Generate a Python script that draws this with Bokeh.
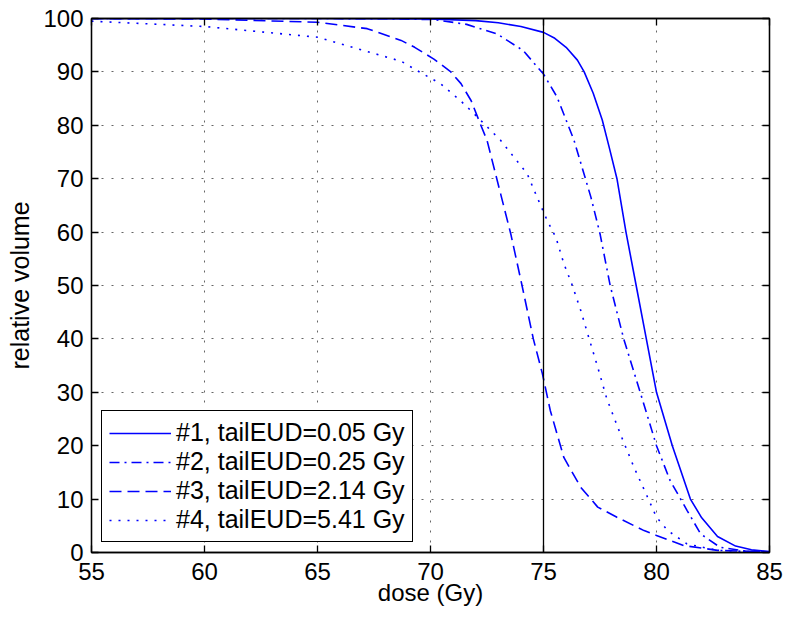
from bokeh.plotting import figure
from bokeh.models import FixedTicker, LinearAxis, Span, Range1d, CustomLabelingPolicy
from bokeh.embed import file_html
from bokeh.resources import INLINE

# ---- data ----
x_ticks = [55, 60, 65, 70, 75, 80, 85]
y_ticks = [0, 10, 20, 30, 40, 50, 60, 70, 80, 90, 100]
ref_dose = 75

labels = ["#1, tailEUD=0.05 Gy", "#2, tailEUD=0.25 Gy",
          "#3, tailEUD=2.14 Gy", "#4, tailEUD=5.41 Gy"]

dose1 = [55, 65, 70, 72, 73, 74, 75, 75.5, 76, 76.5, 76.8, 77.2, 77.6, 77.9,
         78.25, 78.65, 79.1, 79.55, 80.0, 80.7, 81.5, 82.0, 82.7, 83.5, 84.2, 85]
vol1 = [100, 100, 99.9, 99.6, 99.2, 98.5, 97.4, 96.3, 94.6, 92.2, 90, 86, 81, 76,
        70, 60, 50, 40, 30, 20, 10, 6.5, 3, 1.2, 0.5, 0.2]

dose2 = [55, 65, 68, 70.15, 71.6, 72.95, 74.1, 75.0, 75.6, 76.35, 77.1, 77.5,
         77.95, 78.55, 79.3, 80.0, 80.6, 81.35, 81.95, 82.8, 84, 85]
vol2 = [100, 100, 99.95, 99.8, 98.9, 97.1, 94.0, 89.6, 85.3, 77.2, 66.5, 59.7,
        50, 40, 29.7, 20, 13.5, 7.9, 3.5, 1.0, 0.2, 0.05]

dose3 = [55, 60, 65, 67.2, 68.7, 69.3, 70.15, 70.9, 71.35, 71.8, 72.2, 72.5, 73.1,
         73.55, 74.05, 74.55, 74.95, 75.3, 75.9, 76.65, 77.4, 78.25, 79.45, 80.0,
         81.2, 82.7, 85]
vol3 = [100, 99.9, 99.3, 98.1, 95.9, 94.6, 92.4, 90, 87.8, 84.6, 80.3, 77.2, 67.2,
        59.7, 50, 40, 33.5, 26.6, 17.8, 12.2, 8.5, 6.6, 4.1, 3.2, 1.3, 0.4, 0.1]

dose4 = [55, 60, 65, 68.7, 69.55, 70.44, 71.33, 71.92, 73.1, 74.28, 74.72, 75.16,
         75.55, 75.9, 76.25, 76.65, 77.0, 77.4, 77.8, 78.4, 79.0, 79.6, 80.0, 80.5,
         81.35, 82.7, 85]
vol4 = [99.5, 98.5, 96.5, 92, 89.9, 87.8, 84.6, 82.2, 77.2, 70.9, 66.5, 62.2,
        59, 54.1, 50.3, 45.3, 40.3, 34.7, 28.8, 22.2, 16, 10.4, 6.6, 4.1,
        1.6, 0.4, 0.05]

FONT = "Liberation Sans"
BLUE = "#0000ff"

p = figure(width=783, height=618, x_range=Range1d(55, 85), y_range=Range1d(0, 100),
           output_backend="svg", toolbar_location=None,
           min_border_left=91, min_border_right=14, min_border_top=18,
           min_border_bottom=66)

p.background_fill_color = "white"
p.border_fill_color = "white"
p.outline_line_color = "black"
p.outline_line_width = 1.3

xt = FixedTicker(ticks=x_ticks)
yt = FixedTicker(ticks=y_ticks)

for ax, tk in ((p.xaxis[0], xt), (p.yaxis[0], yt)):
    ax.ticker = tk
    ax.major_tick_in = 7
    ax.major_tick_out = 0
    ax.minor_tick_line_color = None
    ax.axis_line_color = "black"
    ax.axis_line_width = 1.3
    ax.major_tick_line_color = "black"
    ax.major_tick_line_width = 1.3
    ax.major_label_text_font = FONT
    ax.major_label_text_font_size = "24px"
    ax.major_label_text_color = "black"
    ax.axis_label_text_font = FONT
    ax.axis_label_text_font_style = "normal"
    ax.axis_label_text_color = "black"

p.xaxis[0].axis_label = "dose (Gy)"
p.yaxis[0].axis_label = "relative volume"
p.xaxis[0].axis_label_text_font_size = "24px"
p.yaxis[0].axis_label_text_font_size = "25px"
p.xaxis[0].major_label_standoff = 10
p.xaxis[0].axis_label_standoff = -4
p.yaxis[0].major_label_standoff = 8
p.yaxis[0].axis_label_standoff = 6

no_labels = CustomLabelingPolicy(code="return new indices.constructor(indices.size)")

for loc, tk in (("above", xt), ("right", yt)):
    ax = LinearAxis(ticker=tk, major_tick_in=7, major_tick_out=0,
                    minor_tick_line_color=None, axis_line_color="black",
                    axis_line_width=1.3, major_tick_line_color="black",
                    major_tick_line_width=1.3, major_label_text_font_size="1px",
                    major_label_standoff=0, major_label_policy=no_labels)
    p.add_layout(ax, loc)

for g in (p.xgrid[0], p.ygrid[0]):
    g.grid_line_color = "#333333"
    g.grid_line_alpha = 0.75
    g.grid_line_dash = "2 8"
    g.grid_line_width = 1

p.add_layout(Span(location=ref_dose, dimension="height", line_color="black",
                  line_width=1.3))

p.line(dose1, vol1, line_color=BLUE, line_width=1.6, legend_label=labels[0])
p.line(dose2, vol2, line_color=BLUE, line_width=1.6, line_dash="10 5 2 5",
       legend_label=labels[1])
p.line(dose3, vol3, line_color=BLUE, line_width=1.6, line_dash="12 6",
       legend_label=labels[2])
p.line(dose4, vol4, line_color=BLUE, line_width=1.6, line_dash="2 7",
       legend_label=labels[3])

lg = p.legend[0]
lg.location = "bottom_left"
lg.margin = 10
lg.border_line_color = "black"
lg.border_line_width = 1.2
lg.border_line_alpha = 1
lg.background_fill_color = "white"
lg.background_fill_alpha = 1
lg.label_text_font = FONT
lg.label_text_font_size = "25px"
lg.label_text_color = "black"
lg.glyph_width = 62
lg.glyph_height = 24
lg.label_height = 24
lg.label_standoff = 5
lg.spacing = 0
lg.padding = 7

open("out.html", "w").write(file_html(p, INLINE))
